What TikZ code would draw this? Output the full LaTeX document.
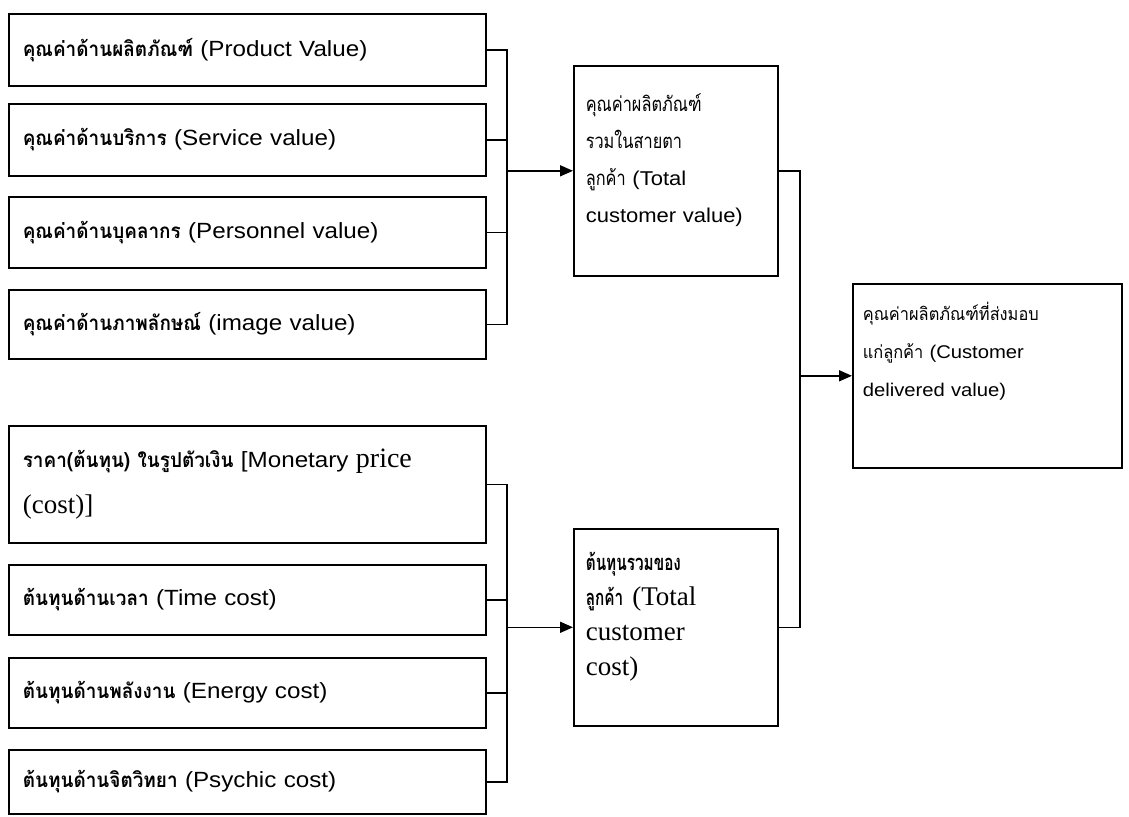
\documentclass[tikz,border=0pt]{standalone}
\usepackage{fontspec}
\setmainfont[FakeStretch=1.1]{Liberation Sans}
% Thai faces: slightly narrowed, condensed and strongly condensed
\newfontfamily\thaiA[Script=Thai, FakeStretch=0.92]{Loma}
\newfontfamily\thaiB[Script=Thai, FakeStretch=0.8]{Loma}
\newfontfamily\thaiC[Script=Thai, FakeStretch=0.7]{Loma}
\newfontfamily\latinserif{Liberation Serif}
\usetikzlibrary{arrows.meta}

% Thai words at a given size
\newcommand{\thb}[2]{{\thaiA\bfseries\fontsize{#1}{#1}\selectfont #2}}
\newcommand{\thr}[2]{{\thaiA\fontsize{#1}{#1}\selectfont #2}}
\newcommand{\thcr}[2]{{\thaiB\fontsize{#1}{#1}\selectfont #2}}
\newcommand{\thcb}[2]{{\thaiC\bfseries\fontsize{#1}{#1}\selectfont #2}}
% Latin words set in a serif face at a given size
\newcommand{\srf}[2]{{\latinserif\fontsize{#1}{#1}\selectfont #2}}

\begin{document}
\begin{tikzpicture}[x=1pt, y=-1pt,
  frame/.style={draw, line width=1.6pt, rectangle, anchor=north west,
    inner xsep=14pt, inner ysep=0pt, align=left},
  itembox/.style={frame, minimum width=477pt, text width=449pt,
    font=\fontsize{22}{46}\selectfont},
  sumbox/.style={frame, minimum width=204pt, text width=180pt, inner xsep=12pt},
  link/.style={line width=1.6pt},
  arrowlink/.style={line width=1.6pt, -{Triangle[length=13pt, width=11pt]}}]

\useasboundingbox (0,0) rectangle (1129,816);

% ---- value components ----
\node[itembox, minimum height=72pt] (pv) at (8,13)
  {\thb{20.6}{คุณค่าด้านผลิตภัณฑ์} (Product Value)};
\node[itembox, minimum height=72pt] (sv) at (8,103)
  {\thb{20.6}{คุณค่าด้านบริการ} (Service value)};
\node[itembox, minimum height=71pt] (perv) at (8,196)
  {\thb{20.6}{คุณค่าด้านบุคลากร} (Personnel value)};
\node[itembox, minimum height=69pt] (iv) at (8,289)
  {\thb{20.6}{คุณค่าด้านภาพลักษณ์} (image value)};

% ---- cost components ----
\node[itembox, minimum height=117pt] (mc) at (8,425)
  {\thb{20.6}{ราคา(ต้นทุน) ในรูปตัวเงิน} [Monetary \srf{28}{price}\\
   \srf{27}{(cost)]}};
\node[itembox, minimum height=70pt] (tc) at (8,564)
  {\thb{20.6}{ต้นทุนด้านเวลา} (Time cost)};
\node[itembox, minimum height=70pt] (ec) at (8,657)
  {\thb{20.6}{ต้นทุนด้านพลังงาน} (Energy cost)};
\node[itembox, minimum height=64pt] (pc) at (8,749)
  {\thb{20.6}{ต้นทุนด้านจิตวิทยา} (Psychic cost)};

% ---- totals ----
\node[sumbox, minimum height=210pt, text depth=137pt,
      font=\fontsize{20}{37}\selectfont] (tcv) at (573,65)
  {\thcr{20.4}{คุณค่าผลิตภัณฑ์}\\ \thcr{20.4}{รวมในสายตา}\\
   \thcr{20.4}{ลูกค้า} (Total\\ customer value)};
\node[sumbox, minimum height=197pt, text depth=132pt,
      font=\fontsize{27}{35}\selectfont] (tcc) at (573,528)
  {\thcb{21.9}{ต้นทุนรวมของ}\\ \thcb{21.9}{ลูกค้า} \srf{27}{(Total}\\
   \srf{27}{customer}\\ \srf{27}{cost)}};

% ---- result ----
\node[frame, minimum width=269pt, minimum height=184pt, text width=249pt,
      inner xsep=10pt, text depth=129pt,
      font=\fontsize{18.4}{38}\selectfont] (cdv) at (852,283)
  {\thr{17.8}{คุณค่าผลิตภัณฑ์ที่ส่งมอบ}\\ \thr{17.8}{แก่ลูกค้า} (Customer\\
   delivered value)};

% ---- junction points ----
\coordinate (jv) at (507,173);
\coordinate (jc) at (507,625);
\coordinate (jr) at (800,380);

% value bracket
\draw[link] (pv.east) -| (jv) |- (iv.east);
\draw[link] (sv.east) -- (sv.east -| jv);
\draw[link] (perv.east) -- (perv.east -| jv);
\draw[arrowlink] (jv |- tcv.west) -- (tcv.west);

% cost bracket
\draw[link] (mc.east) -| (jc) |- (pc.east);
\draw[link] (tc.east) -- (tc.east -| jc);
\draw[link] (ec.east) -- (ec.east -| jc);
\draw[arrowlink] (jc |- tcc.west) -- (tcc.west);

% totals to result
\draw[link] (tcv.east) -| (jr) |- (tcc.east);
\draw[arrowlink] (jr |- cdv.west) -- (cdv.west);
\end{tikzpicture}
\end{document}
